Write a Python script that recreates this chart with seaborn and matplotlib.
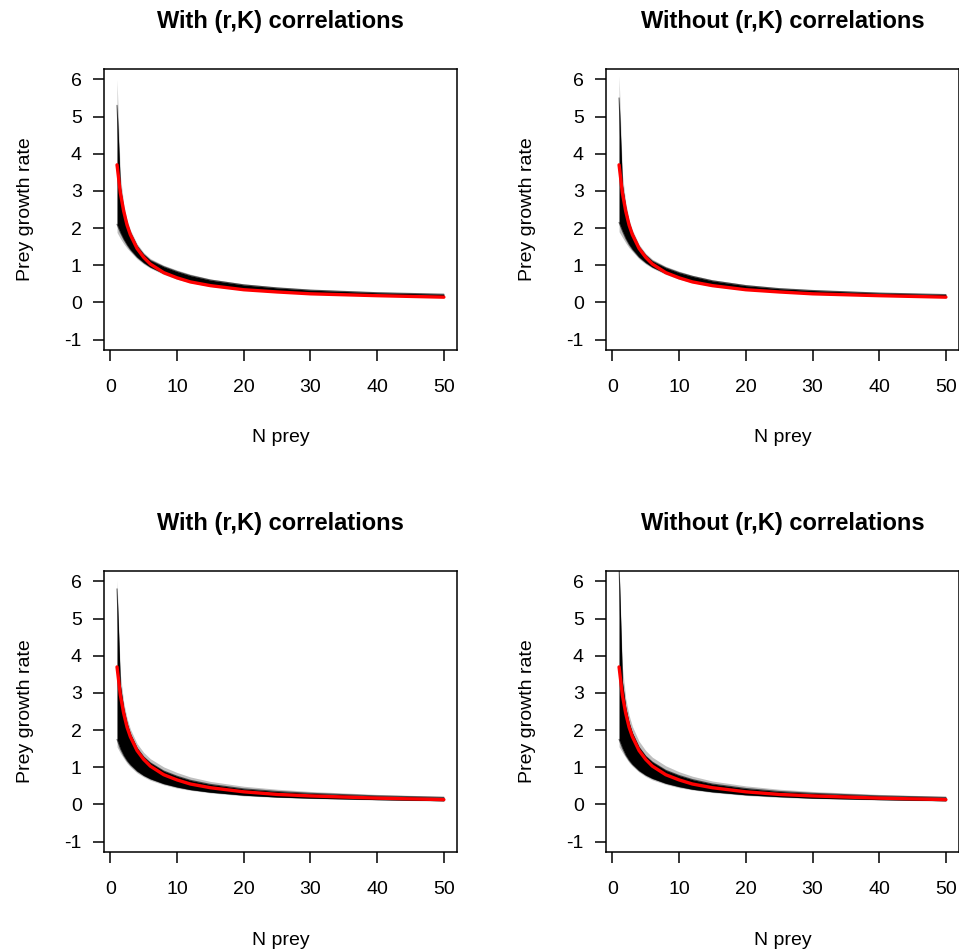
import matplotlib
matplotlib.use("Agg")
import matplotlib.pyplot as plt
import seaborn as sns

n_prey = [1, 1.5, 2, 2.5, 3, 4, 5, 6, 8, 10, 12, 15, 20, 25, 30, 40, 50]

# top left: with (r,K) correlations
red_tl = [3.70, 2.94, 2.45, 2.08, 1.82, 1.45, 1.21, 1.03, 0.80, 0.66, 0.55, 0.45, 0.34, 0.28, 0.23, 0.18, 0.14]
hi_tl = [5.30, 3.10, 2.52, 2.14, 1.88, 1.52, 1.29, 1.13, 0.96, 0.83, 0.72, 0.60, 0.47, 0.39, 0.33, 0.26, 0.22]
lo_tl = [2.10, 1.88, 1.70, 1.55, 1.42, 1.22, 1.07, 0.95, 0.78, 0.65, 0.55, 0.45, 0.35, 0.28, 0.24, 0.18, 0.145]
hiout_tl = [6.00, 3.40, 2.65, 2.22, 1.95, 1.58, 1.34, 1.18, 1.00, 0.87, 0.76, 0.63, 0.50, 0.41, 0.35, 0.28, 0.23]
loout_tl = [1.88, 1.72, 1.58, 1.46, 1.36, 1.17, 1.03, 0.92, 0.75, 0.62, 0.53, 0.43, 0.33, 0.27, 0.23, 0.17, 0.14]

# top right: without (r,K) correlations
red_tr = [3.70, 2.94, 2.45, 2.08, 1.82, 1.45, 1.21, 1.03, 0.80, 0.66, 0.55, 0.45, 0.34, 0.28, 0.23, 0.18, 0.14]
hi_tr = [5.50, 3.15, 2.55, 2.15, 1.88, 1.50, 1.27, 1.11, 0.93, 0.80, 0.70, 0.58, 0.45, 0.37, 0.32, 0.25, 0.21]
lo_tr = [2.15, 1.92, 1.72, 1.56, 1.43, 1.22, 1.07, 0.95, 0.78, 0.65, 0.55, 0.45, 0.35, 0.28, 0.23, 0.18, 0.145]
hiout_tr = [6.10, 3.45, 2.68, 2.23, 1.95, 1.56, 1.32, 1.16, 0.97, 0.84, 0.73, 0.61, 0.48, 0.39, 0.34, 0.27, 0.22]
loout_tr = [1.90, 1.75, 1.60, 1.47, 1.37, 1.17, 1.03, 0.92, 0.75, 0.62, 0.53, 0.43, 0.33, 0.27, 0.22, 0.17, 0.135]

# bottom left: with (r,K) correlations
red_bl = [3.70, 2.94, 2.45, 2.08, 1.82, 1.45, 1.21, 1.03, 0.80, 0.66, 0.55, 0.45, 0.34, 0.27, 0.23, 0.17, 0.13]
hi_bl = [5.80, 3.20, 2.58, 2.18, 1.90, 1.52, 1.28, 1.12, 0.90, 0.76, 0.65, 0.54, 0.42, 0.35, 0.30, 0.23, 0.19]
lo_bl = [1.75, 1.50, 1.32, 1.18, 1.07, 0.90, 0.78, 0.69, 0.56, 0.47, 0.40, 0.33, 0.25, 0.20, 0.17, 0.13, 0.10]
hiout_bl = [6.05, 3.50, 2.75, 2.32, 2.03, 1.64, 1.40, 1.23, 1.01, 0.86, 0.74, 0.62, 0.49, 0.41, 0.35, 0.27, 0.22]
loout_bl = [1.55, 1.38, 1.24, 1.11, 1.01, 0.85, 0.74, 0.65, 0.53, 0.44, 0.38, 0.31, 0.23, 0.19, 0.16, 0.12, 0.09]

# bottom right: without (r,K) correlations
red_br = [3.70, 2.94, 2.45, 2.08, 1.82, 1.45, 1.21, 1.03, 0.80, 0.66, 0.55, 0.45, 0.34, 0.27, 0.23, 0.17, 0.13]
hi_br = [6.40, 3.30, 2.60, 2.20, 1.92, 1.54, 1.30, 1.14, 0.92, 0.78, 0.67, 0.55, 0.43, 0.35, 0.30, 0.23, 0.19]
lo_br = [1.75, 1.52, 1.33, 1.19, 1.08, 0.91, 0.79, 0.70, 0.57, 0.48, 0.41, 0.34, 0.26, 0.21, 0.17, 0.13, 0.10]
hiout_br = [6.50, 3.70, 2.85, 2.40, 2.10, 1.70, 1.45, 1.27, 1.04, 0.88, 0.76, 0.63, 0.50, 0.41, 0.35, 0.27, 0.22]
loout_br = [1.55, 1.40, 1.26, 1.13, 1.03, 0.87, 0.75, 0.66, 0.54, 0.45, 0.39, 0.32, 0.24, 0.19, 0.16, 0.12, 0.09]

titles = ["With (r,K) correlations", "Without (r,K) correlations",
          "With (r,K) correlations", "Without (r,K) correlations"]
x_ticks = [0, 10, 20, 30, 40, 50]
y_ticks = [-1, 0, 1, 2, 3, 4, 5, 6]

sns.set_style("white")
plt.rcParams["font.family"] = ["Liberation Sans", "DejaVu Sans"]
plt.rcParams["text.color"] = "black"
plt.rcParams["axes.labelcolor"] = "black"
plt.rcParams["xtick.color"] = "black"
plt.rcParams["ytick.color"] = "black"
plt.rcParams["axes.unicode_minus"] = False

fig = plt.figure(figsize=(9.59, 9.52), dpi=100)

# axes boxes in figure fractions (left, bottom, width, height)
boxes = [
    [0.1084, 0.6324, 0.3681, 0.2952],
    [0.6319, 0.6324, 0.3681, 0.2952],
    [0.1084, 0.1050, 0.3681, 0.2952],
    [0.6319, 0.1050, 0.3681, 0.2952],
]
panels = [
    (red_tl, hi_tl, lo_tl, hiout_tl, loout_tl),
    (red_tr, hi_tr, lo_tr, hiout_tr, loout_tr),
    (red_bl, hi_bl, lo_bl, hiout_bl, loout_bl),
    (red_br, hi_br, lo_br, hiout_br, loout_br),
]

for box, (red, hi, lo, hiout, loout), title in zip(boxes, panels, titles):
    ax = fig.add_axes(box)
    # faint outer spread of the posterior curves
    ax.fill_between(n_prey, loout, hiout, color="black", alpha=0.25, lw=0)
    # dense core of the curves
    ax.fill_between(n_prey, lo, hi, color="black", alpha=1.0, lw=0)
    sns.lineplot(x=n_prey, y=hi, color="black", lw=0.8, alpha=0.6, ax=ax)
    sns.lineplot(x=n_prey, y=lo, color="black", lw=0.8, alpha=0.6, ax=ax)
    sns.lineplot(x=n_prey, y=red, color="red", lw=2.4, ax=ax)

    ax.set_xlim(-0.96, 51.96)
    ax.set_ylim(-1.28, 6.28)
    ax.set_xticks(x_ticks)
    ax.set_yticks(y_ticks)
    ax.tick_params(axis="both", direction="out", length=8, width=1.1,
                   color="black", labelcolor="black", labelsize=14,
                   left=True, bottom=True)
    ax.tick_params(axis="x", pad=13)
    ax.tick_params(axis="y", pad=8)
    for sp in ax.spines.values():
        sp.set_visible(True)
        sp.set_color("black")
        sp.set_linewidth(1.1)
    ax.set_title(title, fontsize=17, fontweight="bold", pad=29.5, color="black")
    ax.set_xlabel("N prey", fontsize=14, labelpad=24)
    ax.set_ylabel("Prey growth rate", fontsize=14, labelpad=22)

fig.savefig("out.png", dpi=100)
